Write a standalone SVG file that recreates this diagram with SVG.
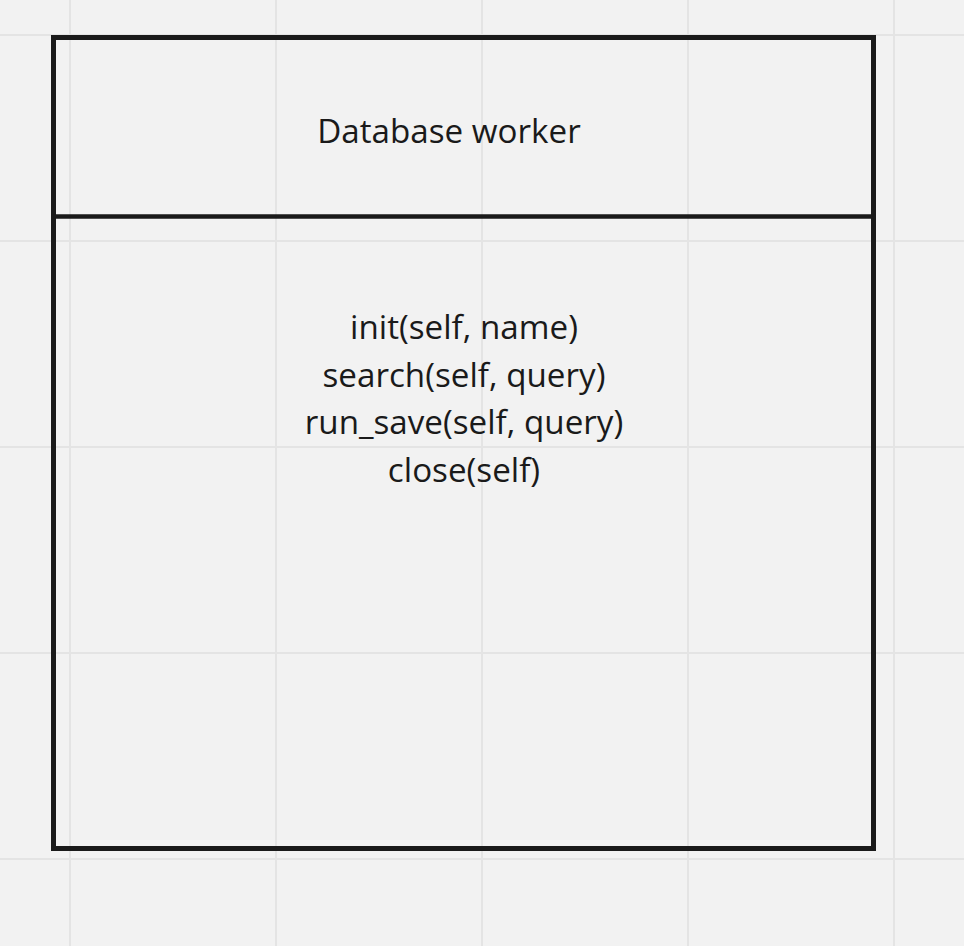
<svg xmlns="http://www.w3.org/2000/svg" width="964" height="946" viewBox="0 0 964 946">
<style>
.grid{stroke:#e4e4e4;stroke-width:2;fill:none}
.box{fill:none;stroke:#1a1a1a;stroke-width:5}
.t{font-family:"Open Sans","Noto Sans",sans-serif;fill:#1a1a1a;text-anchor:middle;font-size:33.2px}
</style>
<rect width="964" height="946" fill="#f2f2f2"/>
<g id="grid" class="grid">
<line x1="70" y1="0" x2="70" y2="946"/>
<line x1="276" y1="0" x2="276" y2="946"/>
<line x1="482" y1="0" x2="482" y2="946"/>
<line x1="688" y1="0" x2="688" y2="946"/>
<line x1="894" y1="0" x2="894" y2="946"/>
<line x1="0" y1="35" x2="964" y2="35"/>
<line x1="0" y1="241" x2="964" y2="241"/>
<line x1="0" y1="447" x2="964" y2="447"/>
<line x1="0" y1="653" x2="964" y2="653"/>
<line x1="0" y1="859" x2="964" y2="859"/>
</g>
<g id="node-database-worker">
<rect class="box" x="53.5" y="37.5" width="820" height="811"/>
<line class="box" x1="53.5" y1="216.5" x2="873.5" y2="216.5" style="stroke-width:4.5"/>
<text class="t" x="449" y="143">Database worker</text>
<text class="t" x="464" y="339">init(self, name)</text>
<text class="t" x="464" y="387">search(self, query)</text>
<text class="t" x="464" y="434">run_save(self, query)</text>
<text class="t" x="464" y="482">close(self)</text>
</g>
<g id="connectors"></g>
</svg>
